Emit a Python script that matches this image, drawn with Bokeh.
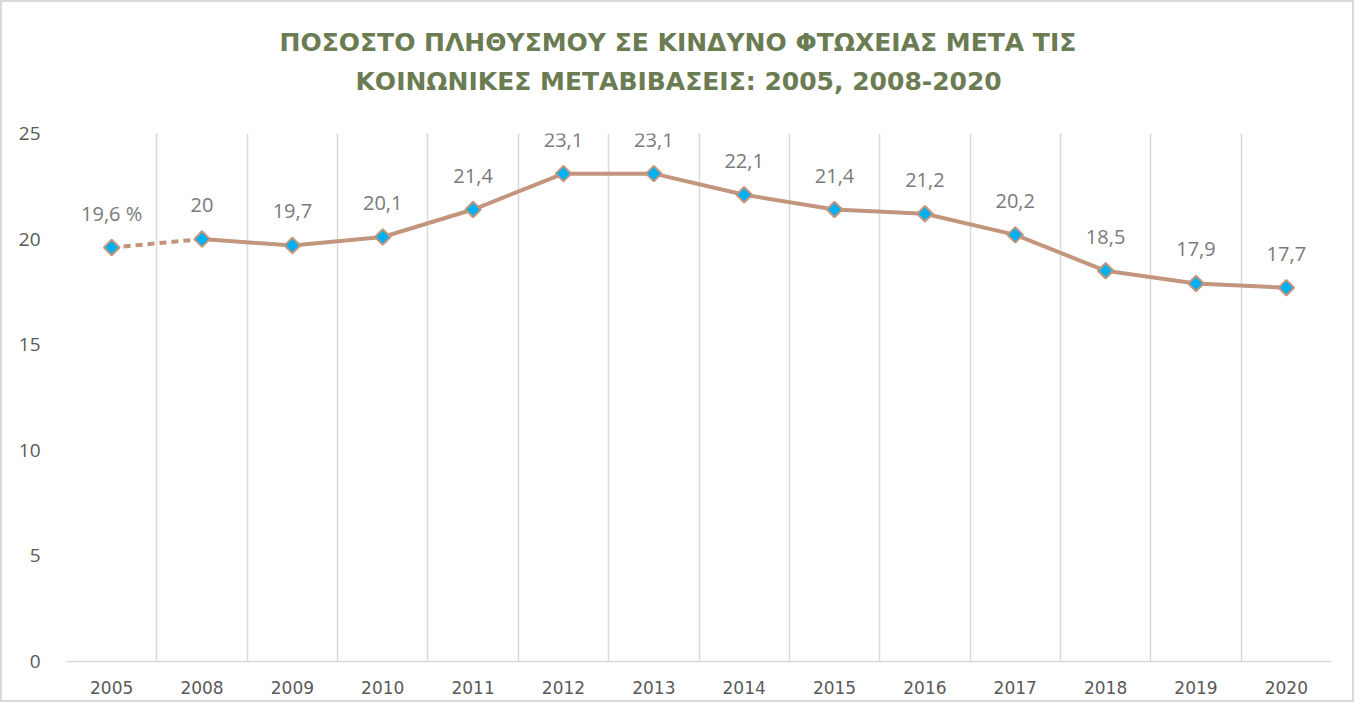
import numpy as np
from bokeh.plotting import figure
from bokeh.models import Range1d, FixedTicker, Grid, Title, LabelSet, ColumnDataSource
from bokeh.core.properties import value
from bokeh.embed import file_html
from bokeh.resources import INLINE

years = ["2005", "2008", "2009", "2010", "2011", "2012", "2013", "2014",
         "2015", "2016", "2017", "2018", "2019", "2020"]
rates = [19.6, 20.0, 19.7, 20.1, 21.4, 23.1, 23.1, 22.1, 21.4, 21.2, 20.2, 18.5, 17.9, 17.7]
point_labels = ["19,6 %", "20", "19,7", "20,1", "21,4", "23,1", "23,1", "22,1",
                "21,4", "21,2", "20,2", "18,5", "17,9", "17,7"]
y_ticks = [0, 5, 10, 15, 20, 25]
title_lines = ["ΠΟΣΟΣΤΟ ΠΛΗΘΥΣΜΟΥ ΣΕ ΚΙΝΔΥΝΟ ΦΤΩΧΕΙΑΣ ΜΕΤΑ ΤΙΣ",
               "ΚΟΙΝΩΝΙΚΕΣ ΜΕΤΑΒΙΒΑΣΕΙΣ: 2005, 2008-2020"]

n = len(years)
xs = np.arange(n) + 0.5

LINE = "#C3957D"
GRID = "#D9D9D9"
TXT = "#595959"

p = figure(width=1354, height=702, output_backend="svg", toolbar_location=None,
           x_range=Range1d(0, n), y_range=Range1d(0, 25),
           min_border_left=64, min_border_right=25, min_border_top=131,
           min_border_bottom=43)
p.outline_line_color = None
p.background_fill_color = "white"
p.border_fill_color = "white"
p.styles = {"border": "2px solid #D9D9D9"}

# title lines (bottom one added first so it sits next to the frame)
for t, off, so in [(title_lines[1], 289, 76), (title_lines[0], 213, -60)]:
    p.add_layout(Title(text=t, align="left", offset=off,
                       text_font="DejaVu Sans", text_font_size="25px",
                       text_font_style="bold", text_color="#6B7B52",
                       standoff=so), "above")

p.xgrid.visible = False
p.ygrid.visible = False
p.add_layout(Grid(dimension=0, ticker=FixedTicker(ticks=list(range(n + 1))),
                  grid_line_color=GRID, grid_line_width=1.5))

p.xaxis.ticker = FixedTicker(ticks=list(xs))
p.xaxis.major_label_overrides = {float(x): y for x, y in zip(xs, years)}
p.xaxis.axis_line_color = GRID
p.xaxis.axis_line_width = 1.5
p.xaxis.major_tick_line_color = None
p.xaxis.minor_tick_line_color = None
p.xaxis.major_label_text_font = "DejaVu Sans"
p.xaxis.major_label_text_font_size = "17px"
p.xaxis.major_label_text_color = TXT
p.xaxis.major_label_standoff = 13

p.yaxis.ticker = FixedTicker(ticks=y_ticks)
p.yaxis.axis_line_color = None
p.yaxis.major_tick_line_color = None
p.yaxis.minor_tick_line_color = None
p.yaxis.major_label_text_font = "Open Sans"
p.yaxis.major_label_text_font_size = "19px"
p.yaxis.major_label_text_color = TXT
p.yaxis.major_label_standoff = 20

# dashed segment between 2005 and 2008
p.line(xs[:2], rates[:2], line_color=LINE, line_width=4, line_dash="7 5")
p.line(xs[1:], rates[1:], line_color=LINE, line_width=4, line_join="round")

src = ColumnDataSource(dict(x=xs, y=rates, lab=point_labels))
p.scatter("x", "y", source=src, marker="square", angle=np.pi / 4, size=11,
          fill_color="#00B0F0", line_color=LINE, line_width=2)
p.add_layout(LabelSet(x="x", y="y", text="lab", source=src, text_align="center",
                      text_baseline="middle", y_offset=34,
                      text_font=value("Open Sans"), text_font_size="20px",
                      text_color="#7A7A7A"))

open("out.html", "w").write(file_html(p, INLINE))
